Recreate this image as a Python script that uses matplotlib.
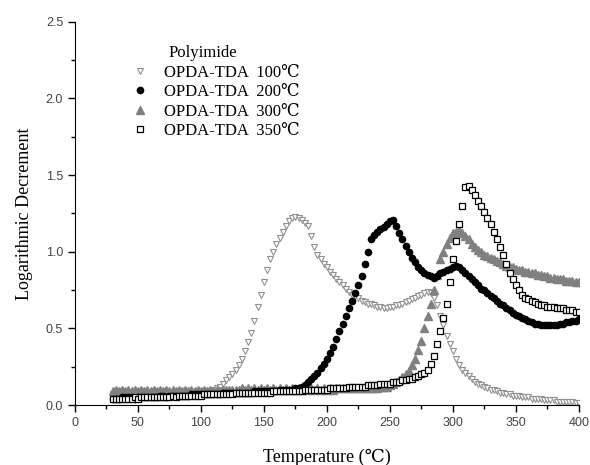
import numpy as np
import matplotlib
matplotlib.use('Agg')
import matplotlib.pyplot as plt
from matplotlib.ticker import MultipleLocator, FormatStrFormatter

# temperature grid (°C) of the measured points
temp = np.arange(30, 400.1, 2.5)

# logarithmic decrement (rows of 25 °C)
opda_100 = [0.07, 0.08, 0.07, 0.07, 0.08, 0.07, 0.07, 0.08, 0.07, 0.07,
            0.07, 0.07, 0.08, 0.07, 0.07, 0.08, 0.07, 0.07, 0.08, 0.07,
            0.07, 0.08, 0.07, 0.08, 0.08, 0.08, 0.08, 0.08, 0.08, 0.09,
            0.09, 0.09, 0.10, 0.11, 0.12, 0.14, 0.16, 0.18, 0.20, 0.23,
            0.26, 0.30, 0.35, 0.41, 0.47, 0.55, 0.64, 0.72, 0.80, 0.88,
            0.95, 1.00, 1.05, 1.09, 1.13, 1.17, 1.20, 1.22, 1.23, 1.22,
            1.21, 1.19, 1.17, 1.10, 1.03, 0.98, 0.95, 0.92, 0.90, 0.87,
            0.85, 0.82, 0.80, 0.78, 0.76, 0.74, 0.72, 0.71, 0.70, 0.68,
            0.67, 0.66, 0.66, 0.65, 0.64, 0.64, 0.63, 0.63, 0.64, 0.64,
            0.65, 0.65, 0.66, 0.67, 0.68, 0.69, 0.70, 0.71, 0.72, 0.73,
            0.74, 0.73, 0.70, 0.65, 0.58, 0.52, 0.45, 0.40, 0.35, 0.30,
            0.26, 0.23, 0.21, 0.19, 0.17, 0.15, 0.14, 0.13, 0.12, 0.11,
            0.10, 0.10, 0.09, 0.08, 0.08, 0.07, 0.07, 0.06, 0.06, 0.06,
            0.05, 0.05, 0.05, 0.04, 0.04, 0.04, 0.04, 0.03, 0.03, 0.03,
            0.03, 0.02, 0.02, 0.02, 0.02, 0.02, 0.02, 0.01, 0.01]
opda_200 = [0.04, 0.04, 0.04, 0.05, 0.05, 0.05, 0.05, 0.04, 0.05, 0.05,
            0.05, 0.05, 0.05, 0.05, 0.05, 0.06, 0.06, 0.05, 0.06, 0.06,
            0.06, 0.06, 0.06, 0.06, 0.06, 0.07, 0.07, 0.07, 0.07, 0.07,
            0.07, 0.07, 0.07, 0.07, 0.07, 0.08, 0.08, 0.08, 0.08, 0.08,
            0.08, 0.08, 0.08, 0.08, 0.08, 0.09, 0.09, 0.09, 0.09, 0.09,
            0.09, 0.09, 0.09, 0.10, 0.10, 0.10, 0.10, 0.10, 0.11, 0.11,
            0.12, 0.13, 0.15, 0.17, 0.19, 0.21, 0.24, 0.27, 0.30, 0.34,
            0.38, 0.43, 0.48, 0.53, 0.58, 0.63, 0.68, 0.73, 0.78, 0.84,
            0.92, 1.00, 1.08, 1.11, 1.13, 1.15, 1.16, 1.18, 1.20, 1.21,
            1.17, 1.12, 1.08, 1.04, 1.00, 0.96, 0.93, 0.90, 0.88, 0.86,
            0.85, 0.84, 0.83, 0.84, 0.86, 0.87, 0.88, 0.89, 0.90, 0.91,
            0.90, 0.88, 0.86, 0.84, 0.82, 0.80, 0.78, 0.76, 0.75, 0.73,
            0.71, 0.70, 0.68, 0.66, 0.65, 0.63, 0.62, 0.60, 0.59, 0.58,
            0.57, 0.56, 0.55, 0.54, 0.53, 0.53, 0.52, 0.52, 0.52, 0.52,
            0.52, 0.52, 0.53, 0.53, 0.54, 0.54, 0.55, 0.55, 0.56]
opda_300 = [0.09, 0.10, 0.09, 0.10, 0.09, 0.10, 0.09, 0.10, 0.09, 0.10,
            0.09, 0.10, 0.09, 0.10, 0.09, 0.10, 0.09, 0.10, 0.09, 0.10,
            0.09, 0.10, 0.09, 0.10, 0.09, 0.10, 0.09, 0.10, 0.09, 0.10,
            0.09, 0.10, 0.09, 0.10, 0.09, 0.10, 0.10, 0.10, 0.10, 0.10,
            0.10, 0.11, 0.10, 0.11, 0.10, 0.11, 0.10, 0.11, 0.10, 0.11,
            0.10, 0.11, 0.10, 0.11, 0.10, 0.11, 0.10, 0.11, 0.10, 0.11,
            0.10, 0.11, 0.10, 0.11, 0.10, 0.11, 0.10, 0.11, 0.10, 0.11,
            0.10, 0.11, 0.11, 0.11, 0.11, 0.11, 0.11, 0.11, 0.11, 0.11,
            0.11, 0.11, 0.11, 0.11, 0.11, 0.12, 0.12, 0.12, 0.13, 0.14,
            0.15, 0.16, 0.18, 0.20, 0.22, 0.26, 0.30, 0.36, 0.42, 0.50,
            0.58, 0.66, 0.75, 0.85, 0.95, 1.00, 1.05, 1.09, 1.12, 1.13,
            1.14, 1.12, 1.10, 1.08, 1.05, 1.03, 1.01, 1.00, 0.98, 0.97,
            0.96, 0.95, 0.94, 0.93, 0.92, 0.91, 0.90, 0.90, 0.89, 0.88,
            0.88, 0.87, 0.87, 0.86, 0.86, 0.85, 0.85, 0.84, 0.84, 0.83,
            0.83, 0.82, 0.82, 0.82, 0.81, 0.81, 0.81, 0.80, 0.80]
opda_350 = [0.04, 0.04, 0.04, 0.04, 0.04, 0.04, 0.04, 0.05, 0.04, 0.05,
            0.05, 0.05, 0.05, 0.05, 0.05, 0.05, 0.05, 0.05, 0.05, 0.06,
            0.05, 0.06, 0.06, 0.06, 0.06, 0.06, 0.06, 0.06, 0.06, 0.07,
            0.07, 0.07, 0.07, 0.07, 0.07, 0.07, 0.07, 0.07, 0.07, 0.08,
            0.08, 0.08, 0.08, 0.08, 0.08, 0.08, 0.08, 0.08, 0.08, 0.08,
            0.08, 0.09, 0.09, 0.09, 0.09, 0.09, 0.09, 0.09, 0.09, 0.09,
            0.09, 0.10, 0.10, 0.10, 0.10, 0.10, 0.10, 0.10, 0.10, 0.11,
            0.11, 0.11, 0.11, 0.11, 0.11, 0.12, 0.12, 0.12, 0.12, 0.12,
            0.12, 0.13, 0.13, 0.13, 0.13, 0.14, 0.14, 0.14, 0.14, 0.15,
            0.15, 0.15, 0.16, 0.16, 0.17, 0.17, 0.18, 0.19, 0.20, 0.21,
            0.23, 0.27, 0.32, 0.40, 0.48, 0.57, 0.66, 0.80, 0.95, 1.07,
            1.18, 1.30, 1.42, 1.43, 1.40, 1.37, 1.33, 1.30, 1.26, 1.22,
            1.18, 1.13, 1.08, 1.03, 0.98, 0.92, 0.86, 0.82, 0.78, 0.75,
            0.72, 0.70, 0.69, 0.68, 0.67, 0.66, 0.65, 0.65, 0.64, 0.64,
            0.64, 0.63, 0.63, 0.63, 0.62, 0.62, 0.62, 0.61, 0.61]

labels = ['OPDA-TDA  100\u2103', 'OPDA-TDA  200\u2103',
          'OPDA-TDA  300\u2103', 'OPDA-TDA  350\u2103']

serif = ['Liberation Serif', 'DejaVu Serif']

fig = plt.figure(figsize=(5.9, 4.65), dpi=100)
ax = fig.add_axes([0.127, 0.129, 0.854, 0.824])

h100, = ax.plot(temp, opda_100, linestyle='none', marker='v', markersize=5,
                markerfacecolor='white', markeredgecolor='#909090',
                markeredgewidth=0.8, label=labels[0])
h300, = ax.plot(temp, opda_300, linestyle='none', marker='^', markersize=6,
                color='#808080', label=labels[2])
h200, = ax.plot(temp, opda_200, linestyle='none', marker='o', markersize=4.5,
                color='black', label=labels[1])
h350, = ax.plot(temp, opda_350, linestyle='none', marker='s', markersize=4.5,
                markerfacecolor='white', markeredgecolor='black',
                markeredgewidth=0.9, label=labels[3])

ax.set_xlim(0, 400)
ax.set_ylim(0, 2.5)
ax.xaxis.set_major_locator(MultipleLocator(50))
ax.xaxis.set_minor_locator(MultipleLocator(25))
ax.yaxis.set_major_locator(MultipleLocator(0.5))
ax.yaxis.set_minor_locator(MultipleLocator(0.25))
ax.yaxis.set_major_formatter(FormatStrFormatter('%.1f'))

for s in ['top', 'right']:
    ax.spines[s].set_visible(False)

ax.tick_params(which='major', direction='out', length=5, width=1,
               labelsize=9, labelcolor='#444444')
ax.tick_params(which='minor', direction='out', length=3, width=1)
for lab in ax.get_xticklabels() + ax.get_yticklabels():
    lab.set_family(['Liberation Sans', 'DejaVu Sans'])

ax.set_xlabel('Temperature (\u2103)', family=serif, fontsize=13, labelpad=14)
ax.set_ylabel('Logarithmic Decrement', family=serif, fontsize=13, labelpad=9)

ax.legend(handles=[h100, h200, h300, h350], loc='upper left',
          bbox_to_anchor=(0.1, 0.905), frameon=False,
          prop={'family': serif, 'size': 12}, handlelength=1.0,
          handletextpad=0.9, labelspacing=0.2, borderaxespad=0)
ax.text(0.185, 0.92, 'Polyimide', transform=ax.transAxes, family=serif,
        fontsize=12, va='center', ha='left')

fig.savefig('out.png', dpi=100)
